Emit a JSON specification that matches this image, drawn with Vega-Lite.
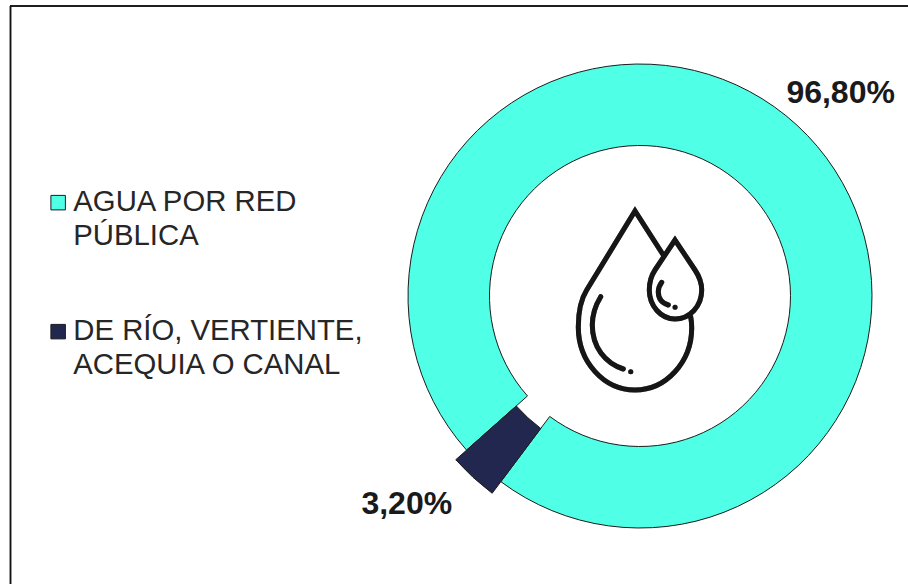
{
"$schema":"https://vega.github.io/schema/vega-lite/v6.json",
"width":908,"height":584,"autosize":{"type":"none"},"padding":0,"background":"white",
"config":{"view":{"stroke":null},"font":"Liberation Sans"},
"data":{"values":[{"categoria":"AGUA POR RED PÚBLICA","valor":96.8,"etiqueta":"96,80%"},{"categoria":"DE RÍO, VERTIENTE, ACEQUIA O CANAL","valor":3.2,"etiqueta":"3,20%"}]},
"transform":[{"stack":"valor","groupby":[],"as":["ini","fin"]},{"calculate":"(datum.ini+datum.fin)/2","as":"mid"}],
"encoding":{
"x":{"datum":640,"type":"quantitative","scale":{"domain":[0,908]},"axis":null},
"y":{"datum":296,"type":"quantitative","scale":{"domain":[0,584],"reverse":true},"axis":null}
},
"resolve":{"scale":{"theta":"shared"}},
"layer":[
{"transform":[{"filter":"datum.valor>50"}],"mark":{"type":"arc","radius":232,"radius2":150.5,"stroke":"#1c1c1c","strokeWidth":1},
"encoding":{"theta":{"field":"ini","type":"quantitative","scale":{"domain":[0,100],"range":[3.986,10.269]}},"theta2":{"field":"fin"},
"color":{"field":"categoria","type":"nominal","scale":{"domain":["AGUA POR RED PÚBLICA","DE RÍO, VERTIENTE, ACEQUIA O CANAL"],"range":["#4FFFE6","#21274F"]},
"legend":{"title":null,"orient":"none","legendX":43.5,"legendY":188,"symbolType":"square","symbolSize":210,"symbolStrokeColor":"#1c1c1c","symbolStrokeWidth":1,"labelFontSize":29.3,"labelColor":"#262626","labelLimit":500,"labelOffset":0.5,"rowPadding":65,"padding":0,"labelBaseline":"top",
"labelExpr":"datum.label=='AGUA POR RED PÚBLICA'?['AGUA POR RED','PÚBLICA']:['DE RÍO, VERTIENTE,','ACEQUIA O CANAL']",
"encoding":{"labels":{"lineHeight":{"value":34},"dy":{"value":-15}}}}}}},
{"transform":[{"filter":"datum.valor<50"}],"mark":{"type":"arc","radius":246.5,"radius2":165.5,"stroke":"#1c1c1c","strokeWidth":1},
"encoding":{"theta":{"field":"ini","type":"quantitative"},"theta2":{"field":"fin"},"color":{"field":"categoria","type":"nominal"}}},
{"transform":[{"filter":"datum.valor>50"}],"mark":{"type":"text","radius":286,"fontSize":32,"fontWeight":"bold","color":"#1a1a1a","dx":7,"dy":7},
"encoding":{"theta":{"field":"mid","type":"quantitative"},"text":{"field":"etiqueta"}}},
{"transform":[{"filter":"datum.valor<50"}],"mark":{"type":"text","radius":312,"fontSize":32,"fontWeight":"bold","color":"#1a1a1a","dx":-22,"dy":-22},
"encoding":{"theta":{"field":"mid","type":"quantitative"},"text":{"field":"etiqueta"}}},
{"mark":{"type":"point","filled":false,"stroke":"#000000","strokeWidth":5,"strokeCap":"round","strokeJoin":"miter","size":4,
"shape":"M28.3,-45 L0,-89 L-48.3,-10 C-54,-1 -56.7,12 -56.7,27 C-56.7,62 -31,90 0,90 C31,90 56.7,62 56.7,28 C56.7,24 56.3,20 55.7,16.7 M40,-60 L20,-30 C16,-24 14.3,-18 14.3,-10 C14.3,6 26,19 40,19 C55,19 66.7,6 66.7,-10 C66.7,-18 64,-24 60,-30 Z M-34.3,-3.3 C-40,6 -42.7,15 -42.7,25 C-42.7,47 -30,63 -11.7,69 M-4.3,71.7 L-4.2,71.7 M26.7,-17.7 C24,-14 23.3,-11 23.3,-8.3 C23.3,-2 27,3 33.3,5 M40,7.3 L40.1,7.3"},
"encoding":{"x":{"datum":635},"y":{"datum":300}}},
{"mark":{"type":"rule","stroke":"#111111","strokeWidth":1.5},"encoding":{"x":{"datum":10.5},"y":{"datum":6},"y2":{"datum":584}}},
{"mark":{"type":"rule","stroke":"#111111","strokeWidth":1.5},"encoding":{"x":{"datum":10},"x2":{"datum":908},"y":{"datum":6}}}
]
}
